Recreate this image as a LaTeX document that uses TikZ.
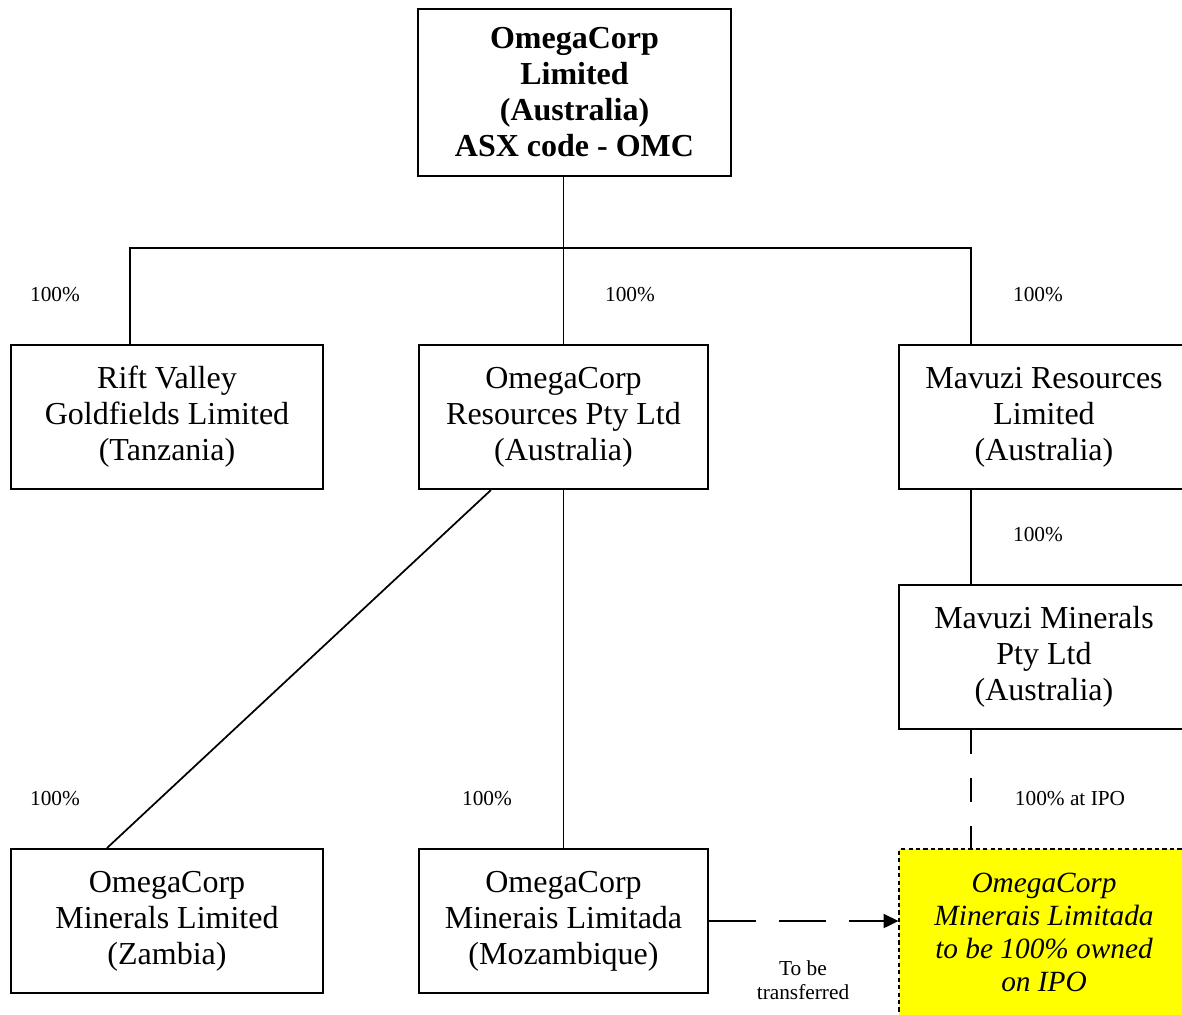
\documentclass[tikz,border=0pt]{standalone}
\usepackage{fontspec}
\setmainfont{Liberation Serif}
\usetikzlibrary{positioning,arrows.meta}
\definecolor{ipoyellow}{RGB}{255,255,0}

\begin{document}
\begin{tikzpicture}[x=0.375pt,y=-0.375pt]
    % Define Styles
        \tikzstyle{block} = [rectangle, draw, fill=white, text centered, align=center, minimum height=54pt, minimum width=108.4pt, inner sep=0pt, line width=0.75pt, font=\fontsize{12}{13.5}\selectfont]
        \tikzstyle{wideblock} = [block, minimum width=117pt]
        \tikzstyle{line} = [draw, line width=0.65pt]
        \tikzstyle{share} = [align=center, inner sep=0pt, font=\fontsize{8}{9}\selectfont]
    \clip (0,0) rectangle (1182,1014);
    % Place nodes
        \node [block, minimum width=117.4pt, minimum height=62.6pt] (omc) at (574.5,92.5) {\textbf{OmegaCorp}\\\textbf{Limited}\\\textbf{(Australia)}\\\textbf{ASX code - OMC}};
        \node [wideblock] (rvg) at (167,417) {Rift Valley\\Goldfields Limited\\(Tanzania)};
        \node [block] (ores) at (563.5,417) {OmegaCorp\\Resources Pty Ltd\\(Australia)};
        \node [block] (mres) at (1044,417) {Mavuzi Resources\\Limited\\(Australia)};
        \node [block] (mmin) at (1044,657) {Mavuzi Minerals\\Pty Ltd\\(Australia)};
        \node [wideblock] (omz) at (167,921) {OmegaCorp\\Minerals Limited\\(Zambia)};
        \node [block] (omm) at (563.5,921) {OmegaCorp\\Minerais Limitada\\(Mozambique)};
        \node [block, fill=ipoyellow, minimum height=62.6pt, dash pattern=on 1.6pt off 1.2pt, font=\fontsize{11}{12.4}\selectfont\itshape] (ipo) at (1044,932.5) {OmegaCorp\\Minerais Limitada\\to be 100\% owned\\on IPO};
    % Share labels
        \node [share] (srvg) at (55,295) {100\%};
        \node [share] (sores) at (630,295) {100\%};
        \node [share] (smres) at (1038,295) {100\%};
        \node [share] (smmin) at (1038,535) {100\%};
        \node [share] (somz) at (55,799) {100\%};
        \node [share] (somm) at (487,799) {100\%};
        \node [share] (sipo) at (1070,799) {100\% at IPO};
        \node [share] (move) at (803,980) {To be\\transferred};
    % Edges
        \coordinate (bus) at (563.5,248);
        \draw[line] (omc.south -| ores.north) -- (ores.north);
        \draw[line] ([xshift=-13.9pt]rvg.north) |- (bus) -| ([xshift=-27.4pt]mres.north);
        \draw[line] ([xshift=-27.4pt]mres.south) -- ([xshift=-27.4pt]mmin.north);
        \draw[line, dash pattern=on 9pt off 9pt] ([xshift=-27.4pt]mmin.south) -- ([xshift=-27.4pt]ipo.north);
        \draw[line] ([xshift=-27.2pt]ores.south) -- ([xshift=-22.5pt]omz.north);
        \draw[line] (ores.south) -- (omm.north);
        \draw[line, dash pattern=on 17.6pt off 8.6pt, -{Triangle[length=5.6pt,width=5.3pt]}] (omm.east) -- (omm.east -| ipo.west);
\end{tikzpicture}
\end{document}
